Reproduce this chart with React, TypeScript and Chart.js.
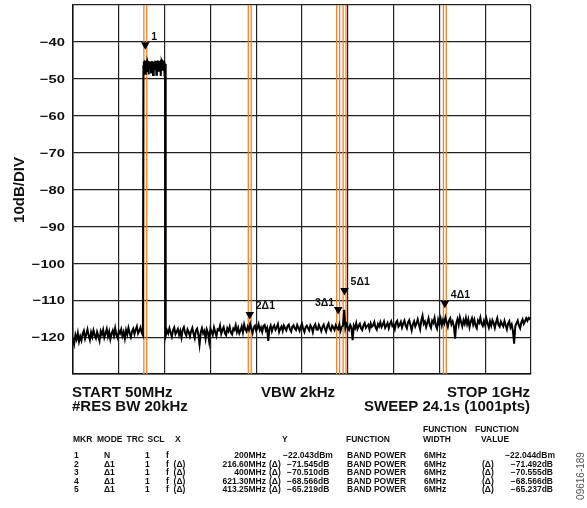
import React, { useEffect, useRef } from 'react';
import { Chart, registerables } from 'chart.js';

Chart.register(...registerables);

// ---- axis definition ----
const START_MHZ = 50;
const STOP_MHZ = 1000;
const DIV_MHZ = 95;
const Y_MIN = -130;
const Y_MAX = -30;
const Y_STEP = 10;
const Y_TICK_LABELS = [-40, -50, -60, -70, -80, -90, -100, -110, -120];
const Y_TITLE = '10dB/DIV';

// ---- trace (dB) ----
const NOISE_LEFT_START = 50;
const NOISE_LEFT_STEP = 2.5;
const noiseLeft = [
  -120.2, -121.8, -119.4, -120.6, -118.9, -121.2, -119.8, -120.9, -119.1, -118.3,
  -120.4, -119.2, -117.9, -119.6, -120.8, -118.7, -119.9, -118.2, -119.5, -120.3,
  -118.6, -119.7, -121.0, -118.4, -119.3, -118.0, -120.1, -119.0, -117.8, -119.8,
  -118.5, -120.6, -119.1, -118.2, -119.6, -117.6, -119.4, -120.2, -118.3, -119.0,
  -117.9, -119.7, -118.6, -120.4, -118.1, -119.3, -117.5, -118.9, -120.0, -118.4,
  -117.7, -119.2, -118.0, -117.1, -119.0, -118.3, -117.4, -118.8, -119.5,
];

const SIGNAL_START = 196;
const SIGNAL_STEP = 1;
const signalBand = [
  -46.5, -45.6, -45.4, -45.7, -48.6, -45.5, -45.3, -45.6, -47.9, -45.4,
  -45.8, -48.8, -45.5, -45.4, -46.2, -45.3, -48.3, -45.6, -45.4, -45.5,
  -49.0, -45.3, -45.6, -45.7, -47.6, -45.4, -45.5, -48.9, -45.6, -45.3,
  -45.4, -46.4, -48.1, -45.5, -45.6, -45.4, -49.2, -45.5, -45.3, -45.7,
  -47.8, -45.4, -45.6, -45.5, -49.5, -46.0, -50.3,
];

const NOISE_RIGHT_START = 242.5;
const NOISE_RIGHT_STEP = 2.5;
const noiseRight = [
  -119.6, -118.2, -119.0, -117.6, -118.8, -119.9, -118.1, -117.4, -119.2, -118.5,
  -117.8, -119.4, -118.3, -120.1, -118.0, -117.3, -118.9, -119.6, -117.9, -118.6,
  -119.8, -118.4, -117.5, -119.1, -120.3, -118.2, -117.7, -119.3, -122.0, -118.7,
  -117.6, -119.0, -118.3, -120.4, -117.9, -118.8, -121.2, -117.7, -118.5, -119.4,
  -117.4, -118.6, -119.7, -117.9, -118.2, -116.9, -119.1, -118.0, -117.3, -118.9,
  -119.5, -117.6, -118.4, -117.2, -118.8, -119.3, -117.7, -118.1, -116.8, -118.6,
  -117.5, -119.0, -118.2, -117.1, -118.7, -116.6, -117.9, -118.5, -117.2, -118.0,
  -116.4, -117.8, -118.9, -117.3, -116.9, -118.3, -117.6, -116.5, -118.1, -117.4,
  -118.6, -117.0, -116.7, -118.2, -117.5, -121.0, -117.8, -116.9, -118.4, -117.3,
  -116.8, -118.0, -117.4, -116.5, -118.6, -117.7, -117.1, -118.3, -116.9, -117.6,
  -118.2, -117.0, -116.6, -117.9, -118.5, -117.2, -116.8, -117.7, -118.1, -116.7,
  -117.5, -118.3, -117.0, -116.4, -117.8, -118.6, -117.3, -116.9, -117.6, -118.2,
  -116.8, -117.4, -118.7, -117.1, -116.5, -117.9, -118.0, -116.7, -117.5, -118.4,
  -117.2, -116.6, -117.8, -118.5, -117.0, -116.3, -117.7, -118.2, -116.9, -117.4,
  -118.1, -116.8, -117.5, -117.9, -116.6, -118.3, -117.2, -116.9, -112.6, -117.6,
  -116.5, -117.3, -118.0, -116.7, -117.4, -120.8, -116.9, -117.6, -116.2, -117.8,
  -117.0, -116.4, -117.6, -118.1, -116.8, -116.2, -117.5, -117.0, -116.6, -117.9,
  -116.3, -117.2, -116.8, -115.9, -117.4, -118.0, -116.5, -117.1, -116.0, -117.3,
  -116.7, -115.8, -117.5, -116.9, -116.2, -117.6, -116.4, -115.7, -117.0, -116.6,
  -117.8, -116.1, -115.6, -117.2, -116.7, -115.9, -117.4, -116.3, -115.5, -116.9,
  -117.6, -116.0, -115.4, -116.8, -118.2, -116.5, -115.7, -117.1, -116.3, -115.2,
  -116.6, -117.9, -115.5, -114.2, -116.4, -115.8, -117.3, -116.1, -114.9, -116.7,
  -117.5, -115.6, -116.2, -114.8, -116.9, -117.7, -115.3, -116.5, -115.0, -116.8,
  -115.4, -116.3, -114.7, -116.0, -117.2, -115.5, -114.9, -116.6, -115.8, -117.0,
  -120.4, -116.2, -115.1, -116.7, -114.6, -115.9, -117.1, -115.4, -116.4, -114.8,
  -116.5, -115.2, -117.3, -115.8, -114.9, -116.6, -115.3, -116.9, -117.6, -115.5,
  -116.1, -114.7, -116.4, -117.0, -115.6, -116.8, -115.0, -116.3, -117.4, -115.7,
  -116.9, -115.4, -116.2, -117.5, -116.0, -114.9, -116.7, -117.2, -115.8, -116.5,
  -117.1, -115.6, -116.8, -117.9, -116.3, -115.7, -117.4, -116.6, -118.3, -121.8,
  -117.0, -116.2, -115.5, -116.9, -117.6, -116.0, -115.2, -116.4, -115.7, -114.9,
  -115.6, -114.8, -115.1, -114.6,
];

// ---- markers ----
const markerNames = ['1', '2Δ1', '3Δ1', '4Δ1', '5Δ1'];
const markerFreqs = [200, 416.6, 600, 821.3, 613.25];
const markerLevels = [-40.8, -113.9, -112.5, -110.8, -107.4];
const BAND_POWER_SPAN_MHZ = 6;

// ---- annotations ----
const footerLeft = ['START 50MHz', '#RES BW 20kHz'];
const footerCenter = 'VBW 2kHz';
const footerRight = ['STOP 1GHz', 'SWEEP 24.1s (1001pts)'];
const tableHeaderTop = ['FUNCTION', 'FUNCTION'];
const tableHeader = ['MKR', 'MODE', 'TRC', 'SCL', 'X', 'Y', 'FUNCTION', 'WIDTH', 'VALUE'];
const tblMkr = ['1', '2', '3', '4', '5'];
const tblMode = ['N', 'Δ1', 'Δ1', 'Δ1', 'Δ1'];
const tblTrc = ['1', '1', '1', '1', '1'];
const tblScl = ['f', 'f  (Δ)', 'f  (Δ)', 'f  (Δ)', 'f  (Δ)'];
const tblX = ['200MHz', '216.60MHz', '400MHz', '621.30MHz', '413.25MHz'];
const tblXDelta = ['', '(Δ)', '(Δ)', '(Δ)', '(Δ)'];
const tblY = ['−22.043dBm', '−71.545dB', '−70.510dB', '−68.566dB', '−65.219dB'];
const tblFunc = ['BAND POWER', 'BAND POWER', 'BAND POWER', 'BAND POWER', 'BAND POWER'];
const tblWidth = ['6MHz', '6MHz', '6MHz', '6MHz', '6MHz'];
const tblValDelta = ['', '(Δ)', '(Δ)', '(Δ)', '(Δ)'];
const tblValue = ['−22.044dBm', '−71.492dB', '−70.555dB', '−68.566dB', '−65.237dB'];
const FIGURE_ID = '09616-189';

function segment(start: number, step: number, values: number[]) {
  return values.map((v, i) => ({ x: start + step * i, y: v }));
}

const FONT = '"Liberation Sans", Arial, sans-serif';

function st(
  ctx: CanvasRenderingContext2D,
  text: string,
  x: number,
  y: number,
  align: CanvasTextAlign,
  sx: number
) {
  ctx.save();
  ctx.translate(x, y);
  ctx.scale(sx, 1);
  ctx.textAlign = align;
  ctx.fillText(text, 0, 0);
  ctx.restore();
}

export default function App() {
  const ref = useRef<HTMLCanvasElement | null>(null);

  useEffect(() => {
    document.body.style.margin = '0';
    const canvas = ref.current!;
    const trace = [
      ...segment(NOISE_LEFT_START, NOISE_LEFT_STEP, noiseLeft),
      ...segment(SIGNAL_START, SIGNAL_STEP, signalBand),
      ...segment(NOISE_RIGHT_START, NOISE_RIGHT_STEP, noiseRight),
    ];

    const orangeSets: any[] = [];
    markerFreqs.forEach((f) => {
      [f - BAND_POWER_SPAN_MHZ / 2, f + BAND_POWER_SPAN_MHZ / 2].forEach((xv) => {
        orangeSets.push({
          type: 'line',
          data: [{ x: xv, y: Y_MIN }, { x: xv, y: Y_MAX }],
          borderColor: 'rgb(244,128,38)',
          borderWidth: 1.3,
          pointRadius: 0,
          order: 3,
        });
      });
    });

    const annot = {
      id: 'annot',
      afterDatasetsDraw(chart: any) {
        const ctx = chart.ctx as CanvasRenderingContext2D;
        const xs = chart.scales.x;
        const ys = chart.scales.y;
        ctx.save();
        ctx.fillStyle = '#111';
        ctx.font = `bold 10px ${FONT}`;
        ctx.textBaseline = 'middle';
        markerNames.forEach((n, i) => {
          const px = xs.getPixelForValue(markerFreqs[i]);
          const py = ys.getPixelForValue(markerLevels[i]);
          if (n === '3Δ1') {
            st(ctx, n, px - 4, py - 6, 'right', 1.05);
          } else {
            st(ctx, n, px + 6, py - 8, 'left', 1.05);
          }
        });
        ctx.restore();
      },
      afterDraw(chart: any) {
        const ctx = chart.ctx as CanvasRenderingContext2D;
        const ys = chart.scales.y;
        ctx.save();
        ctx.fillStyle = '#111';
        // y tick labels
        ctx.font = `bold 11.6px ${FONT}`;
        ctx.textBaseline = 'middle';
        Y_TICK_LABELS.forEach((v) => {
          st(ctx, '−' + Math.abs(v), 65, ys.getPixelForValue(v) + 1, 'right', 1.27);
        });
        // y title
        ctx.save();
        ctx.translate(23.5, 190);
        ctx.rotate(-Math.PI / 2);
        ctx.font = `bold 15px ${FONT}`;
        ctx.textAlign = 'center';
        ctx.textBaseline = 'alphabetic';
        ctx.fillText(Y_TITLE, 0, 0);
        ctx.restore();
        // footer
        ctx.font = `bold 15px ${FONT}`;
        ctx.textBaseline = 'alphabetic';
        ctx.textAlign = 'left';
        ctx.fillText(footerLeft[0], 72, 396.5);
        ctx.fillText(footerLeft[1], 72, 411);
        ctx.textAlign = 'center';
        ctx.fillText(footerCenter, 298, 396.5);
        ctx.textAlign = 'right';
        ctx.fillText(footerRight[0], 530, 396.5);
        ctx.fillText(footerRight[1], 530, 411);
        // table
        const SX = 1;
        ctx.font = `bold 8.5px ${FONT}`;
        ctx.textBaseline = 'middle';
        st(ctx, tableHeaderTop[0], 423, 430, 'left', SX);
        st(ctx, tableHeaderTop[1], 475, 430, 'left', SX);
        const hx = [73, 97, 126.5, 147.5, 175, 282, 346, 423, 481];
        tableHeader.forEach((h, i) => st(ctx, h, hx[i], 440, 'left', SX));
        const rowY = [456, 464.5, 473, 481.5, 490];
        rowY.forEach((y, r) => {
          st(ctx, tblMkr[r], 74, y, 'left', SX);
          st(ctx, tblMode[r], 104, y, 'left', SX);
          st(ctx, tblTrc[r], 145, y, 'left', SX);
          st(ctx, tblScl[r], 166, y, 'left', SX);
          st(ctx, tblX[r], 266, y, 'right', SX);
          st(ctx, tblXDelta[r], 269, y, 'left', SX);
          st(ctx, tblY[r], r === 0 ? 283 : 287, y, 'left', SX);
          st(ctx, tblFunc[r], 347, y, 'left', SX);
          st(ctx, tblWidth[r], 424, y, 'left', SX);
          st(ctx, tblValDelta[r], 482, y, 'left', SX);
          st(ctx, tblValue[r], r === 0 ? 555 : 553, y, 'right', SX);
        });
        // figure id
        ctx.save();
        ctx.translate(584, 476);
        ctx.rotate(-Math.PI / 2);
        ctx.font = `10px ${FONT}`;
        ctx.fillStyle = '#555';
        ctx.textAlign = 'center';
        ctx.textBaseline = 'alphabetic';
        ctx.fillText(FIGURE_ID, 0, 0);
        ctx.restore();
        ctx.restore();
      },
    };

    const chart = new Chart(canvas, {
      type: 'line',
      data: {
        datasets: [
          {
            data: trace,
            borderColor: '#000',
            borderWidth: 2,
            pointRadius: 0,
            tension: 0,
            order: 2,
          },
          ...orangeSets,
          {
            type: 'scatter',
            data: markerFreqs.map((f, i) => ({ x: f, y: markerLevels[i] })),
            pointStyle: 'triangle',
            rotation: 180,
            radius: 5,
            backgroundColor: '#000',
            borderColor: '#000',
            borderWidth: 0,
            order: 0,
          } as any,
        ],
      },
      options: {
        responsive: false,
        animation: false,
        parsing: false as any,
        normalized: true,
        layout: { padding: { left: 8, top: 5, right: 56, bottom: 134 } },
        plugins: {
          legend: { display: false },
          tooltip: { enabled: false },
        },
        scales: {
          x: {
            type: 'linear',
            min: START_MHZ,
            max: STOP_MHZ,
            ticks: { stepSize: DIV_MHZ, display: false },
            grid: { color: '#222', lineWidth: 1.2, drawTicks: false },
            border: { color: '#111', width: 1.5 },
          },
          y: {
            min: Y_MIN,
            max: Y_MAX,
            afterFit: (s: any) => {
              s.width = 65;
            },
            ticks: { stepSize: Y_STEP, display: false },
            grid: { color: '#222', lineWidth: 1.2, drawTicks: false },
            border: { color: '#111', width: 1.5 },
          },
        },
      },
      plugins: [annot],
    });
    return () => chart.destroy();
  }, []);

  return <canvas ref={ref} width={587} height={508} style={{ display: 'block' }} />;
}
